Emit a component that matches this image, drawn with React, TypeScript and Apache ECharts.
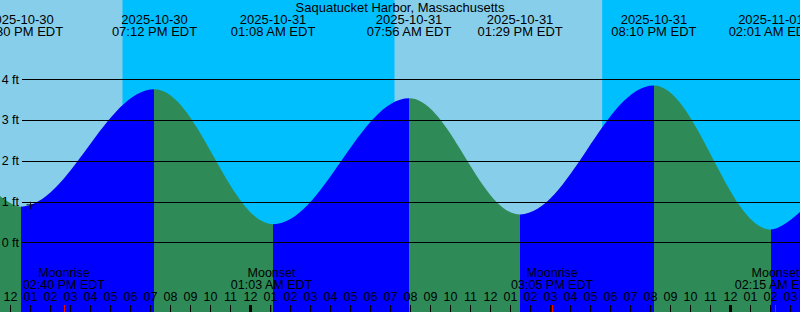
import React, { useEffect, useRef } from 'react';
import * as echarts from 'echarts';

// ---------- data ----------
const stationTitle = 'Saquatucket Harbor, Massachusetts';
const timeZone = 'EDT';
// hour 0 = 2025-10-30 12:00 PM
const baseDate = '2025-10-30';

const tideDates = ['2025-10-30', '2025-10-30', '2025-10-31', '2025-10-31', '2025-10-31', '2025-10-31', '2025-11-01'];
const tideTimes = ['12:30 PM', '07:12 PM', '01:08 AM', '07:56 AM', '01:29 PM', '08:10 PM', '02:01 AM'];
const tideHeights = [0.88, 3.76, 0.45, 3.54, 0.69, 3.85, 0.32];
// water level read at the left and right edges of the chart
const edgeHeights = [1.14, 0.75];

const moonDates = ['2025-10-30', '2025-10-31', '2025-10-31', '2025-11-01'];
const moonTimes = ['02:40 PM', '01:03 AM', '03:05 PM', '02:15 AM'];
const moonEvents = ['Moonrise', 'Moonset', 'Moonrise', 'Moonset'];

const sunDates = ['2025-10-30', '2025-10-31', '2025-10-31'];
const sunTimes = ['05:36 PM', '07:12 AM', '05:35 PM'];
const sunEvents = ['sunset', 'sunrise', 'sunset'];

const midnightHours = [12, 36];
const heightTicks = [0, 1, 2, 3, 4];
const markerPoint = { date: '2025-10-30', time: '01:00 PM', height: 0.905 };

// ---------- layout / style ----------
const W = 800;
const H = 312;
const PX_PER_HOUR = 20;
const HOUR0_X = 10.5;
const ZERO_Y = 242.5;
const PX_PER_FT = 40.75;
const X_MIN = -HOUR0_X / PX_PER_HOUR;
const X_MAX = (W - HOUR0_X) / PX_PER_HOUR;
const Y_MAX = ZERO_Y / PX_PER_FT;
const Y_MIN = -(H - ZERO_Y) / PX_PER_FT;
const HOUR_AXIS_MAX = 40;

const DAY = '#87CEEB';
const NIGHT = '#00BFFF';
const RISING = '#0000FF';
const FALLING = '#2E8B57';
const FONT = 'Liberation Sans';

function hoursFrom(date: string, time: string): number {
  const [y, m, d] = date.split('-').map(Number);
  const [by, bm, bd] = baseDate.split('-').map(Number);
  const [hm, ap] = time.split(' ');
  let [hh, mm] = hm.split(':').map(Number);
  if (ap === 'PM' && hh !== 12) hh += 12;
  if (ap === 'AM' && hh === 12) hh = 0;
  const days = (Date.UTC(y, m - 1, d) - Date.UTC(by, bm - 1, bd)) / 86400000;
  return days * 24 + hh + mm / 60 - 12;
}

function hourLabel(v: number): string {
  if (Math.abs(v - Math.round(v)) > 1e-6) return '';
  const h = ((Math.round(v) % 12) + 12) % 12;
  const n = h === 0 ? 12 : h;
  return n < 10 ? '0' + n : String(n);
}

export default function App() {
  const ref = useRef<HTMLDivElement>(null);

  useEffect(() => {
    document.body.style.margin = '0';
    if (!ref.current) return;
    const chart = echarts.init(ref.current, undefined, { renderer: 'svg' });

    const tideHours = tideDates.map((d, i) => hoursFrom(d, tideTimes[i]));
    const tideData: number[][] = [[X_MIN, edgeHeights[0]]];
    tideHours.forEach((h, i) => tideData.push([h, tideHeights[i]]));
    tideData.push([X_MAX, edgeHeights[1]]);

    const pieces: any[] = [];
    for (let i = 0; i < tideData.length - 1; i++) {
      const color = tideData[i + 1][1] > tideData[i][1] ? RISING : FALLING;
      const p: any = { color };
      if (i > 0) p.gte = tideData[i][0];
      if (i < tideData.length - 2) p.lt = tideData[i + 1][0];
      pieces.push(p);
    }

    const sunHours = sunDates.map((d, i) => hoursFrom(d, sunTimes[i]));
    const nightBands: any[] = [];
    let start: number | null = null;
    sunEvents.forEach((e, i) => {
      if (e === 'sunset') start = sunHours[i];
      else if (start !== null) {
        nightBands.push([{ xAxis: start }, { xAxis: sunHours[i] }]);
        start = null;
      }
    });
    if (start !== null) nightBands.push([{ xAxis: start }, { xAxis: X_MAX }]);

    const moonHours = moonDates.map((d, i) => hoursFrom(d, moonTimes[i]));

    const hourTicks: number[] = [];
    for (let h = 0; h <= HOUR_AXIS_MAX; h++) hourTicks.push(h);

    const txt = { color: '#000', fontFamily: FONT };
    const gridBase = { outerBoundsMode: 'none', containLabel: false };

    chart.setOption({
      animation: false,
      textStyle: { fontFamily: FONT },
      title: {
        text: stationTitle,
        left: 'center',
        top: 1.5,
        padding: 0,
        textStyle: { ...txt, fontSize: 13, fontWeight: 'normal', lineHeight: 12 },
      },
      grid: [
        { ...gridBase, left: 0, right: 0, top: 0, bottom: 0, show: true, backgroundColor: DAY, borderWidth: 0 },
        { ...gridBase, left: 22, right: 0, top: ZERO_Y - 4 * PX_PER_FT, bottom: H - ZERO_Y },
        { ...gridBase, left: HOUR0_X, right: W - HOUR0_X - HOUR_AXIS_MAX * PX_PER_HOUR, top: 305, height: 7 },
        { ...gridBase, left: 0, right: 0, top: 38, height: 5 },
      ],
      visualMap: {
        type: 'piecewise',
        show: false,
        dimension: 0,
        seriesIndex: 0,
        pieces,
      },
      xAxis: [
        { gridIndex: 0, type: 'value', min: X_MIN, max: X_MAX, show: false },
        { gridIndex: 1, type: 'value', min: 0, max: 1, show: false },
        {
          gridIndex: 2,
          type: 'value',
          position: 'top',
          min: 0,
          max: HOUR_AXIS_MAX,
          interval: 1,
          z: 10,
          axisLine: { show: false },
          splitLine: { show: false },
          axisTick: { show: false },
          axisLabel: { ...txt, show: true, fontSize: 12.5, lineHeight: 10, margin: 3, formatter: hourLabel },
        },
        { gridIndex: 3, type: 'value', min: X_MIN, max: X_MAX, show: false },
      ],
      yAxis: [
        { gridIndex: 0, type: 'value', min: Y_MIN, max: Y_MAX, show: false },
        {
          gridIndex: 1,
          type: 'value',
          min: heightTicks[0],
          max: heightTicks[heightTicks.length - 1],
          interval: 1,
          z: 10,
          axisLine: { show: false },
          axisTick: { show: false },
          splitLine: { show: true, lineStyle: { color: '#000', width: 1 } },
          axisLabel: { ...txt, fontSize: 12.5, margin: 3, formatter: '{value} ft' },
        },
        { gridIndex: 2, type: 'value', min: 0, max: 1, show: false },
        { gridIndex: 3, type: 'value', min: 0, max: 1, show: false },
      ],
      series: [
        {
          type: 'line',
          xAxisIndex: 0,
          yAxisIndex: 0,
          data: tideData,
          smooth: 0.36,
          smoothMonotone: 'x',
          symbol: 'none',
          z: 2,
          lineStyle: { width: 0 },
          areaStyle: { opacity: 1, origin: 'start' },
          markArea: {
            silent: true,
            z: 1,
            itemStyle: { color: NIGHT, opacity: 1, borderWidth: 0 },
            data: nightBands,
          },
        },
        {
          type: 'scatter',
          xAxisIndex: 0,
          yAxisIndex: 0,
          z: 4,
          silent: true,
          symbol: 'path://M0,2.5H8V3.5H0Z M3.5,0H4.5V7.5H3.5Z',
          symbolSize: [8, 7.5],
          itemStyle: { color: '#000' },
          data: [[hoursFrom(markerPoint.date, markerPoint.time), markerPoint.height]],
        },
        {
          type: 'line',
          xAxisIndex: 2,
          yAxisIndex: 2,
          data: [],
          z: 11,
          markLine: {
            silent: true,
            symbol: 'none',
            z: 11,
            data: [
              ...hourTicks.map((h) => ({
                xAxis: h,
                lineStyle: { color: '#000', width: 1, type: 'solid' },
                label: { show: false },
              })),
              ...midnightHours.map((h) => ({
                xAxis: h,
                lineStyle: { color: '#000', width: 3, type: 'solid' },
                label: { show: false },
              })),
              ...moonHours.map((h, i) => ({
                xAxis: h,
                lineStyle: { color: '#FF0000', width: 1, type: 'solid' },
                label: {
                  show: true,
                  position: 'end',
                  distance: 14,
                  ...txt,
                  fontSize: 12.5,
                  lineHeight: 12,
                  align: 'center',
                  formatter: `${moonEvents[i]}\n${moonTimes[i]} ${timeZone}`,
                },
              })),
            ],
          },
        },
        {
          type: 'line',
          xAxisIndex: 3,
          yAxisIndex: 3,
          data: [],
          z: 11,
          markLine: {
            silent: true,
            symbol: 'none',
            z: 11,
            data: tideHours.map((h, i) => ({
              xAxis: h,
              lineStyle: { color: 'rgba(0,0,0,0)', width: 1, type: 'solid' },
              label: {
                show: true,
                position: 'end',
                distance: 0.5,
                ...txt,
                fontSize: 13,
                lineHeight: 12,
                align: 'center',
                formatter: `${tideDates[i]}\n${tideTimes[i]} ${timeZone}`,
              },
            })),
          },
        },
      ],
    });

    return () => chart.dispose();
  }, []);

  return <div ref={ref} style={{ width: W, height: H }} />;
}
